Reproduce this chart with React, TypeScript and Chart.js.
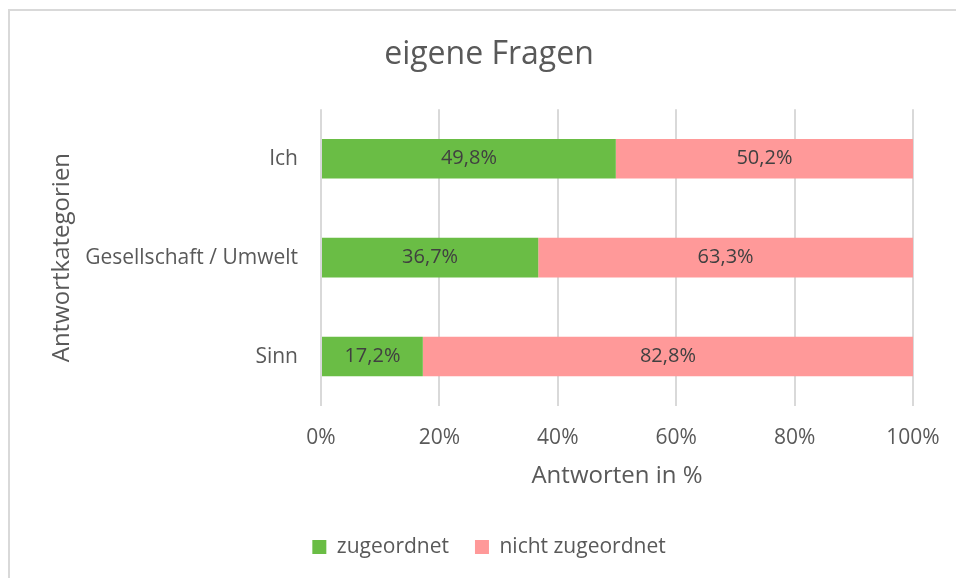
import React, { useEffect, useRef } from "react";
import { Chart, registerables } from "chart.js";

Chart.register(...registerables);

const title = "eigene Fragen";
const categories = ["Ich", "Gesellschaft / Umwelt", "Sinn"];
const seriesNames = ["zugeordnet", "nicht zugeordnet"];
const zugeordnet = [49.8, 36.7, 17.2];
const nichtZugeordnet = [50.2, 63.3, 82.8];
const xTicks = [0, 20, 40, 60, 80, 100];
const xTitle = "Antworten in %";
const yTitle = "Antwortkategorien";

const FONT = "'Open Sans', sans-serif";
const TEXT = "#595959";
const LABEL = "#404040";
const GRID = "#d9d9d9";
const colors = ["#6abd45", "#ff9999"];

const fmt = (v: number) => v.toFixed(1).replace(".", ",") + "%";

const dataLabels = {
  id: "dataLabels",
  afterDatasetsDraw(chart: any) {
    const ctx = chart.ctx;
    ctx.save();
    ctx.font = `20px ${FONT}`;
    ctx.fillStyle = LABEL;
    ctx.textAlign = "center";
    ctx.textBaseline = "middle";
    chart.data.datasets.forEach((ds: any, di: number) => {
      const meta = chart.getDatasetMeta(di);
      meta.data.forEach((el: any, i: number) => {
        const cx = (el.x + el.base) / 2;
        ctx.fillText(fmt(ds.data[i]), cx, el.y);
      });
    });
    ctx.restore();
  },
};

export default function App() {
  const ref = useRef<HTMLCanvasElement>(null);

  useEffect(() => {
    if (!ref.current) return;
    const chart = new Chart(ref.current, {
      type: "bar",
      data: {
        labels: categories,
        datasets: [
          {
            label: seriesNames[0],
            data: zugeordnet,
            backgroundColor: colors[0],
            categoryPercentage: 0.5,
            barPercentage: 0.8,
          },
          {
            label: seriesNames[1],
            data: nichtZugeordnet,
            backgroundColor: colors[1],
            categoryPercentage: 0.5,
            barPercentage: 0.8,
          },
        ],
      },
      options: {
        indexAxis: "y",
        responsive: false,
        animation: false,
        layout: { padding: { left: 22, right: 0, top: 0, bottom: 10.5 } },
        scales: {
          x: {
            stacked: true,
            min: 0,
            max: 100,
            afterBuildTicks: (scale: any) => {
              scale.ticks = xTicks.map((v) => ({ value: v }));
            },
            afterFit: (scale: any) => {
              scale.height = 104.5;
              scale.paddingRight = 43;
            },
            grid: { color: GRID, lineWidth: 2, drawTicks: false },
            border: { display: false },
            ticks: {
              padding: 19.5,
              color: TEXT,
              font: { family: FONT, size: 21 },
              callback: (v: any) => v + "%",
            },
            title: {
              display: true,
              text: xTitle,
              color: TEXT,
              font: { family: FONT, size: 24 },
              padding: { top: 0, bottom: 20 },
            },
          },
          y: {
            stacked: true,
            afterFit: (scale: any) => {
              scale.width = 299;
            },
            grid: { display: false, drawTicks: false },
            border: { display: false },
            ticks: {
              padding: 23,
              color: TEXT,
              font: { family: FONT, size: 21 },
            },
            title: {
              display: true,
              text: yTitle,
              color: TEXT,
              font: { family: FONT, size: 24 },
              padding: { top: 25.6, bottom: 0 },
            },
          },
        },
        plugins: {
          title: {
            display: true,
            text: title,
            color: TEXT,
            font: { family: FONT, size: 32, weight: "normal" },
            padding: { top: 35.8, bottom: 35 },
          },
          legend: {
            display: true,
            position: "bottom",
            labels: {
              color: TEXT,
              font: { family: FONT, size: 21 },
              boxWidth: 14,
              boxHeight: 14,
              padding: 26,
            },
          },
          tooltip: { enabled: false },
        },
      },
      plugins: [dataLabels],
    } as any);
    return () => chart.destroy();
  }, []);

  return (
    <div
      style={{
        position: "absolute",
        left: 0,
        top: 0,
        width: 956,
        height: 578,
        overflow: "hidden",
        background: "#fff",
      }}
    >
      <div
        style={{
          position: "absolute",
          left: 8,
          top: 9,
          width: 2000,
          height: 2000,
          borderLeft: `2px solid ${GRID}`,
          borderTop: `2px solid ${GRID}`,
        }}
      />
      <canvas
        ref={ref}
        width={956}
        height={578}
        style={{ position: "absolute", left: 0, top: 0, width: 956, height: 578 }}
      />
    </div>
  );
}
